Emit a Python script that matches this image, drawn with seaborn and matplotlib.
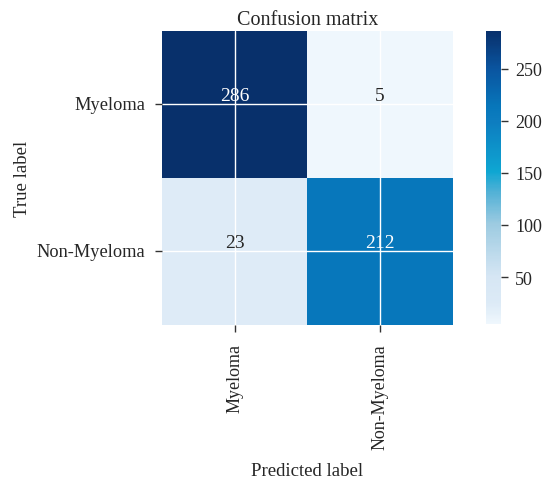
import numpy as np
import pandas as pd
import matplotlib
matplotlib.use("Agg")
import matplotlib.pyplot as plt
import seaborn as sns
from matplotlib.colors import LinearSegmentedColormap

classes = ["Myeloma", "Non-Myeloma"]
counts = [[286, 5],
          [23, 212]]
cbar_ticks = [50, 100, 150, 200, 250]

sns.set_theme(style="darkgrid")
plt.rcParams['font.family'] = ['Liberation Serif', 'DejaVu Serif']
plt.rcParams['text.color'] = '#262626'

cmap = LinearSegmentedColormap.from_list(
    "cm",
    [(0.0, "#eff7fd"), (0.07, "#dceaf6"), (0.16, "#d6e6f4"), (0.34, "#9dcbe1"),
     (0.45, "#52b1d6"), (0.52, "#0ea6d2"), (0.69, "#0d7dc0"), (0.74, "#0777bb"),
     (0.87, "#0a55a0"), (1.0, "#08306b")])

df = pd.DataFrame(counts, index=classes, columns=classes)

fig = plt.figure(figsize=(5.45, 4.85), dpi=100)
ax = fig.add_axes([0.297, 0.328, 0.534, 0.606])
cax = fig.add_axes([0.892, 0.330, 0.0275, 0.604])

sns.heatmap(df, ax=ax, cbar_ax=cax, cmap=cmap, vmin=5, vmax=286,
            annot=True, fmt="d",
            annot_kws={"fontsize": 14, "va": "bottom"},
            cbar_kws={"ticks": cbar_ticks})

ax.set_axisbelow(False)
ax.grid(True, color="white", linewidth=1.0)
ax.set_title("Confusion matrix", fontsize=14.5, pad=5)
ax.set_xlabel("Predicted label", fontsize=13.5, labelpad=10)
ax.set_ylabel("True label", fontsize=13.5, labelpad=4)
ax.set_xticklabels(classes, rotation=90, fontsize=13)
ax.set_yticklabels(classes, rotation=0, fontsize=13.2)
ax.tick_params(axis="x", length=5, width=1, color="#333333", pad=8, bottom=True)
ax.tick_params(axis="y", length=5, width=1, color="#333333", pad=7, left=True)
cax.tick_params(length=5, width=1, color="#333333", labelsize=13, right=True, pad=5)

fig.savefig("out.png", dpi=100)
